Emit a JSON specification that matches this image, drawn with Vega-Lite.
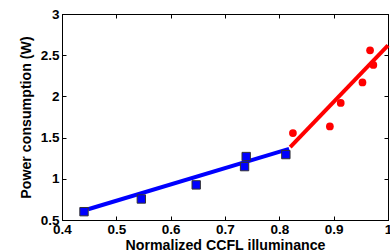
{
  "$schema": "https://vega.github.io/schema/vega-lite/v6.json",
  "width": 326,
  "height": 206,
  "autosize": "none",
  "padding": {"left": 62, "top": 14, "right": 2, "bottom": 32},
  "background": "white",
  "config": {
    "view": {"stroke": "black", "strokeWidth": 1},
    "axis": {
      "grid": false,
      "domainColor": "black",
      "tickColor": "black",
      "labelColor": "black",
      "titleColor": "black",
      "labelFont": "Liberation Sans",
      "titleFont": "Liberation Sans",
      "labelFontWeight": "bold",
      "titleFontWeight": "bold",
      "labelFontSize": 13.5,
      "titleFontSize": 14.2
    }
  },
  "data": {
    "values": [
      {"kind": "bline", "x": 0.448, "y": 0.63},
      {"kind": "bline", "x": 0.818, "y": 1.364},
      {"kind": "rline", "x": 0.820, "y": 1.384},
      {"kind": "rline", "x": 1.0, "y": 2.62},
      {"kind": "bpt", "x": 0.4405, "y": 0.601},
      {"kind": "bpt", "x": 0.546, "y": 0.755},
      {"kind": "bpt", "x": 0.647, "y": 0.926},
      {"kind": "bpt", "x": 0.736, "y": 1.148},
      {"kind": "bpt", "x": 0.739, "y": 1.270},
      {"kind": "bpt", "x": 0.812, "y": 1.294},
      {"kind": "rpt", "x": 0.825, "y": 1.555},
      {"kind": "rpt", "x": 0.893, "y": 1.635},
      {"kind": "rpt", "x": 0.913, "y": 1.920},
      {"kind": "rpt", "x": 0.953, "y": 2.170},
      {"kind": "rpt", "x": 0.967, "y": 2.560},
      {"kind": "rpt", "x": 0.973, "y": 2.382}
    ]
  },
  "resolve": {"axis": {"x": "independent", "y": "independent"}},
  "layer": [
    {
      "transform": [{"filter": "datum.kind == 'bline'"}],
      "mark": {"type": "line", "color": "#0000ff", "strokeWidth": 4},
      "encoding": {
        "x": {"field": "x", "type": "quantitative", "scale": {"domain": [0.4, 1], "nice": false, "zero": false},
          "axis": {"orient": "bottom", "title": "Normalized CCFL illuminance", "values": [0.4, 0.5, 0.6, 0.7, 0.8, 0.9, 1], "format": "~g", "tickSize": -4, "labelPadding": 6, "titlePadding": 3, "labelFlush": false}},
        "y": {"field": "y", "type": "quantitative", "scale": {"domain": [0.5, 3], "nice": false, "zero": false},
          "axis": {"orient": "left", "title": "Power consumption (W)", "values": [0.5, 1, 1.5, 2, 2.5, 3], "format": "~g", "tickSize": -4, "labelPadding": 7, "titlePadding": 7, "labelFlush": false}}
      }
    },
    {
      "transform": [{"filter": "datum.kind == 'rline'"}],
      "mark": {"type": "line", "color": "#ff0000", "strokeWidth": 4},
      "encoding": {
        "x": {"field": "x", "type": "quantitative", "scale": {"domain": [0.4, 1], "nice": false, "zero": false},
          "axis": {"orient": "top", "title": null, "labels": false, "values": [0.4, 0.5, 0.6, 0.7, 0.8, 0.9, 1], "tickSize": -4}},
        "y": {"field": "y", "type": "quantitative", "scale": {"domain": [0.5, 3], "nice": false, "zero": false},
          "axis": {"orient": "right", "title": null, "labels": false, "values": [0.5, 1, 1.5, 2, 2.5, 3], "tickSize": -4}}
      }
    },
    {
      "transform": [{"filter": "datum.kind == 'bpt'"}],
      "mark": {"type": "square", "filled": true, "color": "#0000ff", "stroke": "#333333", "strokeWidth": 1, "size": 70, "opacity": 1},
      "encoding": {
        "x": {"field": "x", "type": "quantitative", "scale": {"domain": [0.4, 1]}, "axis": null},
        "y": {"field": "y", "type": "quantitative", "scale": {"domain": [0.5, 3]}, "axis": null}
      }
    },
    {
      "transform": [{"filter": "datum.kind == 'rpt'"}],
      "mark": {"type": "circle", "color": "#ff0000", "size": 60, "opacity": 1},
      "encoding": {
        "x": {"field": "x", "type": "quantitative", "scale": {"domain": [0.4, 1]}, "axis": null},
        "y": {"field": "y", "type": "quantitative", "scale": {"domain": [0.5, 3]}, "axis": null}
      }
    }
  ]
}
